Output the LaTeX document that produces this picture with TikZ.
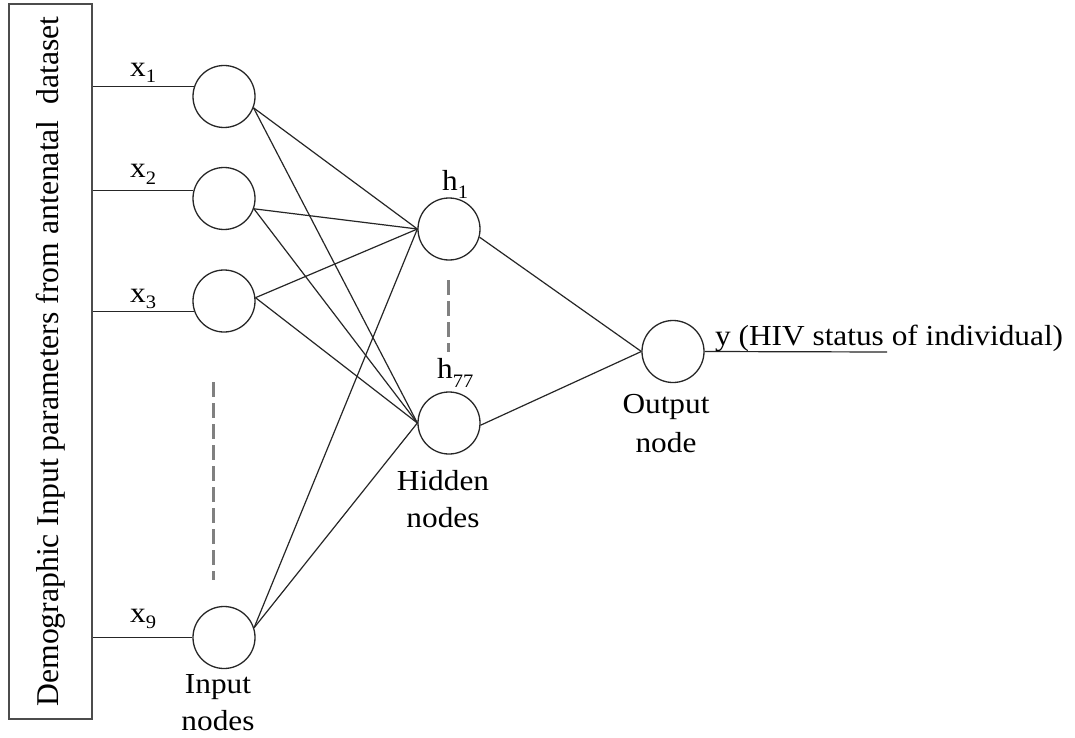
\documentclass[tikz,border=0pt]{standalone}
\usepackage{fontspec}
\setmainfont{Liberation Serif}
\newfontfamily\lblfont[FakeStretch=1.08]{Liberation Serif}
\newcommand\subidx[2][-6pt]{\raisebox{#1}{\fontsize{19}{19}\selectfont #2}}
\tikzset{
  neuron/.style={circle, draw=black!85, line width=1.3pt, minimum size=62pt, inner sep=0pt},
  wire/.style={draw=black!85, line width=1.2pt},
  dots/.style={draw=black!50, line width=3pt, dash pattern=on 15pt off 6pt},
  lbl/.style={font=\lblfont\fontsize{29}{37}\selectfont, inner sep=0pt},
}
\begin{document}
\begin{tikzpicture}[x=1pt,y=-1pt]
\useasboundingbox (0,0) rectangle (1075,738);
\fill[white] (0,0) rectangle (1075,738);

% source box with the rotated caption
\node[draw=black!70, line width=1.8pt, minimum width=83pt, minimum height=715pt, inner sep=0pt]
  (src) at (50.5,361.5)
  {\rotatebox{90}{\fontsize{31.7}{38}\selectfont Demographic Input parameters from antenatal~~dataset}};

% input layer
\node[neuron] (i1) at (224,96.5) {};
\node[neuron] (i2) at (224,198.5) {};
\node[neuron] (i3) at (224,301) {};
\node[neuron] (i9) at (224,637.5) {};

% hidden layer
\node[neuron] (h1) at (449,229) {};
\node[neuron] (h77) at (449,423) {};

% output layer
\node[neuron] (out) at (673,351.5) {};

% feeds from the source box
\draw[wire] (i1.162) -- (i1.162 -| src.east);
\draw[wire] (i2.165) -- (i2.165 -| src.east);
\draw[wire] (i3.200) -- (i3.200 -| src.east);
\draw[wire] (i9.180) -- (i9.180 -| src.east);

% input -> hidden
\foreach \n/\a in {i1/-21, i2/-19, i3/6, i9/18} {
  \draw[wire] (\n.\a) -- (h1.west);
  \draw[wire] (\n.\a) -- (h77.west);
}

% hidden -> output
\draw[wire] (h1.-15) -- (out.west);
\draw[wire] (h77.-4) -- (out.west);

% output line
\coordinate (yend) at (887,352);
\draw[wire] (out.east) -- (yend);

% ellipsis marks
\coordinate (d1a) at (213,382);
\coordinate (d1b) at (213,580);
\draw[dots] (d1a) -- (d1b);
\coordinate (d2a) at (448,280);
\coordinate (d2b) at (448,352);
\draw[dots] (d2a) -- (d2b);

% labels
\node[lbl, anchor=base west] (lx1) at (130,77) {x\subidx{1}};
\node[lbl, anchor=base west] (lx2) at (130,178) {x\subidx{2}};
\node[lbl, anchor=base west] (lx3) at (130,302) {x\subidx{3}};
\node[lbl, anchor=base west] (lx9) at (130,622) {x\subidx{9}};
\node[lbl, anchor=base west] (lh1) at (442,190) {h\subidx[-8pt]{1}};
\node[lbl, anchor=base west] (lh77) at (437,378) {h\subidx[-9pt]{77}};

% two-line captions: the base anchor sits on the last line
\node[lbl, anchor=base, align=center] (lin) at (218,730) {Input\\nodes};
\node[lbl, anchor=base, align=center] (lhid) at (443,527) {Hidden\\nodes};
\node[lbl, anchor=base, align=center] (lout) at (666,452) {Output\\[2pt]node};
\node[lbl, anchor=base west] (ly) at (715,345) {y (HIV status of individual)};
\end{tikzpicture}
\end{document}
